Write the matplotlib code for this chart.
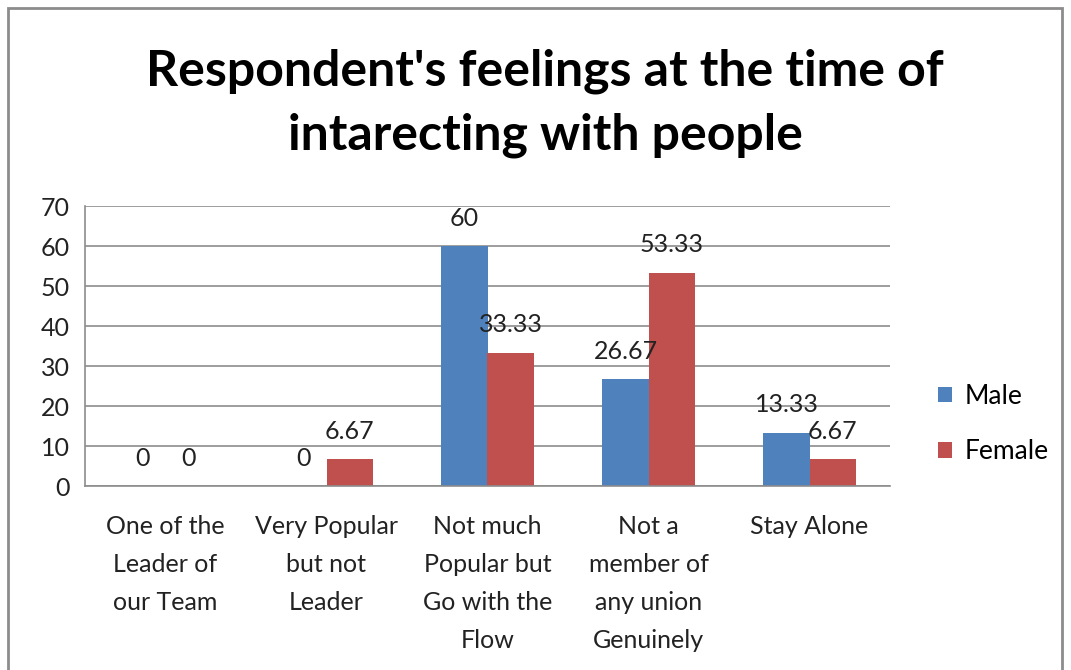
import matplotlib.pyplot as plt
import numpy as np
from matplotlib.patches import Rectangle

# Data
categories = ["One of the\nLeader of\nour Team",
              "Very Popular\nbut not\nLeader",
              "Not much\nPopular but\nGo with the\nFlow",
              "Not a\nmember of\nany union\nGenuinely",
              "Stay Alone"]
male = [0, 0, 60, 26.67, 13.33]
female = [0, 6.67, 33.33, 53.33, 6.67]
male_labels = ["0", "0", "60", "26.67", "13.33"]
female_labels = ["0", "6.67", "33.33", "53.33", "6.67"]
yticks = [0, 10, 20, 30, 40, 50, 60, 70]

plt.rcParams['font.family'] = ['Lato', 'DejaVu Sans']

fig = plt.figure(figsize=(10.71, 6.70), dpi=100)
ax = fig.add_axes([85 / 1071, 1 - 486 / 670, 805 / 1071, 280 / 670])

x = np.arange(len(categories))
w = 0.286
bars_m = ax.bar(x - w / 2, male, w, color='#4F81BD', label='Male')
bars_f = ax.bar(x + w / 2, female, w, color='#C0504D', label='Female')

# value labels above each bar
for xi, v, t in zip(x - w / 2, male, male_labels):
    ax.annotate(t, (xi, v), xytext=(0, 20), textcoords='offset points',
                ha='center', va='center', fontsize=18, color='#222222')
for xi, v, t in zip(x + w / 2, female, female_labels):
    ax.annotate(t, (xi, v), xytext=(0, 20), textcoords='offset points',
                ha='center', va='center', fontsize=18, color='#222222')

ax.set_xlim(-0.5, len(categories) - 0.5)
ax.set_ylim(0, 70)
ax.set_yticks(yticks)
ax.set_yticklabels([str(t) for t in yticks], fontsize=18, color='#222222')
ax.set_xticks(x)
ax.set_xticklabels(categories, fontsize=18, color='#222222',
                   linespacing=1.78, va='top')
ax.tick_params(length=0)
ax.tick_params(axis='y', pad=11)
ax.tick_params(axis='x', pad=21)

ax.yaxis.grid(True, color='#8c8c8c', linewidth=1.2)
ax.set_axisbelow(True)
for s in ['top', 'right']:
    ax.spines[s].set_visible(False)
for s in ['left', 'bottom']:
    ax.spines[s].set_color('#8c8c8c')
    ax.spines[s].set_linewidth(1.2)

fig.legend(handles=[bars_m, bars_f], labels=['Male', 'Female'],
           loc='center left', bbox_to_anchor=(914 / 1071, 1 - 424 / 670),
           frameon=False, fontsize=19, handlelength=0.55, handleheight=0.55,
           handletextpad=0.45, labelspacing=1.15)

fig.text(545 / 1071, 1 - 103 / 670,
         "Respondent's feelings at the time of\nintarecting with people",
         ha='center', va='center', fontsize=36, fontweight='bold',
         linespacing=1.5, color='black')

# outer chart border
fig.patches.append(Rectangle((8 / 1071, -0.05), 1054 / 1071, 1.05 - 8 / 670,
                             transform=fig.transFigure, fill=False,
                             edgecolor='#8c8c8c', linewidth=2))

fig.savefig('out.png', dpi=100)
